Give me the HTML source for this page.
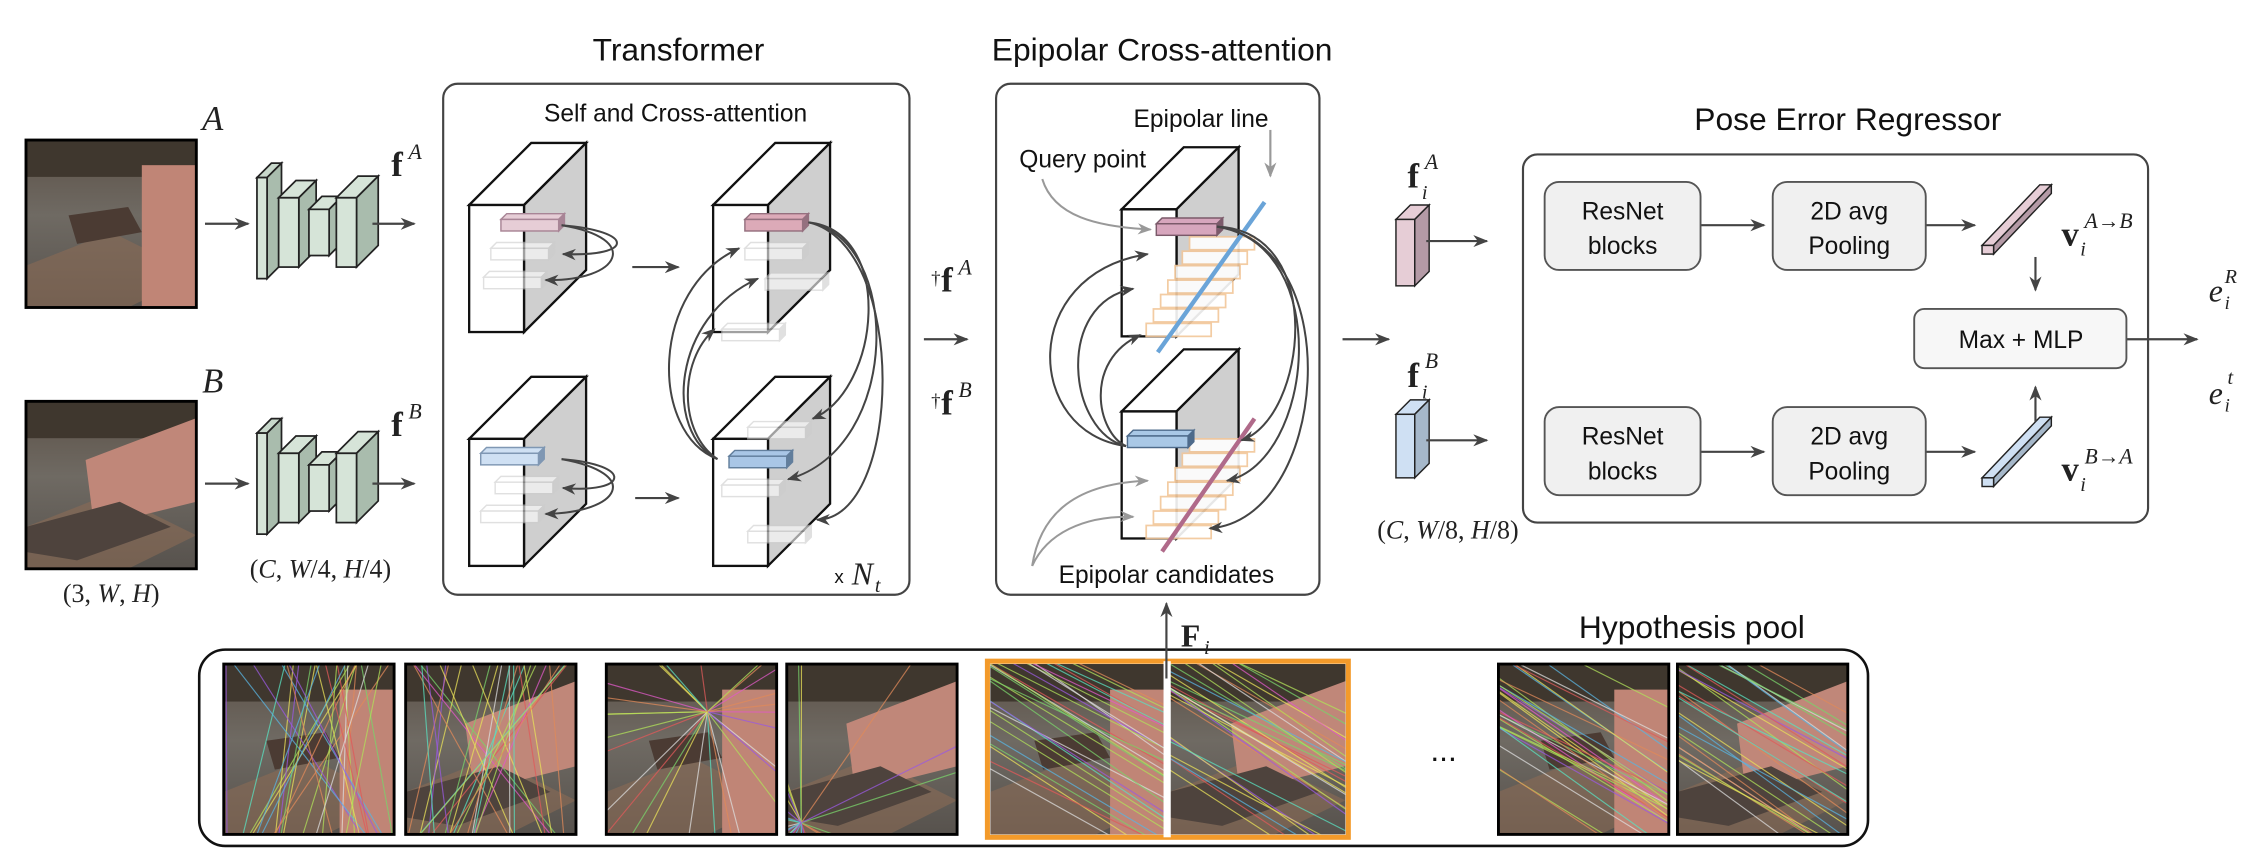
<!DOCTYPE html>
<html><head><meta charset="utf-8">
<style>
html,body{margin:0;padding:0;background:#fff;overflow:hidden;width:2252px;height:863px;}
svg{display:block;}
.s{font-family:"Liberation Sans",sans-serif;fill:#111;}
.m{font-family:"Liberation Serif",serif;fill:#222;}
</style></head>
<body>
<svg id="sv" width="2252" height="863" viewBox="0 0 1560 597.8" xmlns="http://www.w3.org/2000/svg">
<defs>
<marker id="ah" viewBox="0 0 10 10" refX="9" refY="5" markerWidth="7" markerHeight="7" orient="auto-start-reverse"><path d="M0,1 L10,5 L0,9 L3,5 z" fill="#444"/></marker>
<marker id="ahg" viewBox="0 0 10 10" refX="9" refY="5" markerWidth="7" markerHeight="7" orient="auto"><path d="M0,1 L10,5 L0,9 L3,5 z" fill="#999"/></marker>
<linearGradient id="floor" x1="0" y1="0" x2="0" y2="1"><stop offset="0" stop-color="#5c5147"/><stop offset=".45" stop-color="#6f6a63"/><stop offset="1" stop-color="#57524d"/></linearGradient>
</defs>

<text class="s" x="470" y="42" font-size="22" text-anchor="middle">Transformer</text>
<text class="s" x="805" y="42" font-size="22" text-anchor="middle">Epipolar Cross-attention</text>
<text class="s" x="1280" y="90" font-size="22" text-anchor="middle">Pose Error Regressor</text>
<text class="s" x="1172" y="442" font-size="22" text-anchor="middle">Hypothesis pool</text>

<rect x="307" y="58" width="323" height="354" rx="10" fill="none" stroke="#444" stroke-width="1.5"/>
<rect x="690" y="58" width="224" height="354" rx="10" fill="none" stroke="#444" stroke-width="1.5"/>
<rect x="1055" y="107" width="433" height="255" rx="10" fill="none" stroke="#444" stroke-width="1.5"/>
<rect x="138" y="450" width="1156" height="136" rx="18" fill="none" stroke="#111" stroke-width="1.8"/>

<text class="s" x="468" y="84" font-size="17" text-anchor="middle">Self and Cross-attention</text>
<text class="s" x="832" y="88" font-size="17" text-anchor="middle">Epipolar line</text>
<text class="s" x="750" y="116" font-size="17" text-anchor="middle">Query point</text>
<text class="s" x="808" y="404" font-size="17" text-anchor="middle">Epipolar candidates</text>

<g id="dyn"></g>

<text class="m" x="140" y="90" font-size="24" font-style="italic">A</text>
<text class="m" x="140" y="272" font-size="24" font-style="italic">B</text>
<text class="m" x="77" y="417" font-size="18" text-anchor="middle">(3, <tspan font-style="italic">W</tspan>, <tspan font-style="italic">H</tspan>)</text>
<text class="m" x="222" y="400" font-size="18" text-anchor="middle">(<tspan font-style="italic">C</tspan>, <tspan font-style="italic">W</tspan>/4, <tspan font-style="italic">H</tspan>/4)</text>
<text class="m" x="1003" y="373" font-size="18" text-anchor="middle">(<tspan font-style="italic">C</tspan>, <tspan font-style="italic">W</tspan>/8, <tspan font-style="italic">H</tspan>/8)</text>
<text class="m" x="271" y="122" font-size="24" font-weight="bold">f</text><text class="m" x="283" y="110" font-size="15" font-style="italic">A</text>
<text class="m" x="271" y="302" font-size="24" font-weight="bold">f</text><text class="m" x="283" y="290" font-size="15" font-style="italic">B</text>
<text class="m" x="645" y="197" font-size="13">†</text><text class="m" x="652" y="202" font-size="24" font-weight="bold">f</text><text class="m" x="664" y="190" font-size="15" font-style="italic">A</text>
<text class="m" x="645" y="282" font-size="13">†</text><text class="m" x="652" y="287" font-size="24" font-weight="bold">f</text><text class="m" x="664" y="275" font-size="15" font-style="italic">B</text>
<text class="s" x="578" y="404" font-size="13">x</text><text class="m" x="590" y="405" font-size="22" font-style="italic">N</text><text class="m" x="606" y="410" font-size="14" font-style="italic">t</text>
<text class="m" x="975" y="130" font-size="24" font-weight="bold">f</text><text class="m" x="987" y="117" font-size="15" font-style="italic">A</text><text class="m" x="985" y="138" font-size="14" font-style="italic">i</text>
<text class="m" x="975" y="268" font-size="24" font-weight="bold">f</text><text class="m" x="987" y="255" font-size="15" font-style="italic">B</text><text class="m" x="985" y="276" font-size="14" font-style="italic">i</text>
<text class="m" x="1428" y="170" font-size="24" font-weight="bold">v</text><text class="m" x="1444" y="158" font-size="15" font-style="italic">A→B</text><text class="m" x="1441" y="177" font-size="14" font-style="italic">i</text>
<text class="m" x="1428" y="333" font-size="24" font-weight="bold">v</text><text class="m" x="1444" y="321" font-size="15" font-style="italic">B→A</text><text class="m" x="1441" y="340" font-size="14" font-style="italic">i</text>
<text class="m" x="1530" y="209" font-size="22" font-style="italic">e</text><text class="m" x="1541" y="196" font-size="14" font-style="italic">R</text><text class="m" x="1541" y="214" font-size="13" font-style="italic">i</text>
<text class="m" x="1530" y="280" font-size="22" font-style="italic">e</text><text class="m" x="1543" y="266" font-size="14" font-style="italic">t</text><text class="m" x="1541" y="285" font-size="13" font-style="italic">i</text>
<text class="m" x="818" y="448" font-size="22" font-weight="bold">F</text><text class="m" x="834" y="453" font-size="14" font-style="italic">i</text>
<text class="s" x="1000" y="527" font-size="22" text-anchor="middle">...</text>

<g fill="#f0f0f0" stroke="#555" stroke-width="1.3">
<rect x="1070" y="126" width="108" height="61" rx="10"/>
<rect x="1228" y="126" width="106" height="61" rx="10"/>
<rect x="1070" y="282" width="108" height="61" rx="10"/>
<rect x="1228" y="282" width="106" height="61" rx="10"/>
<rect x="1326" y="214" width="147" height="41" rx="7" fill="#f7f7f7"/>
</g>
<g class="s" font-size="17" text-anchor="middle">
<text x="1124" y="152">ResNet</text><text x="1124" y="176">blocks</text>
<text x="1281" y="152">2D avg</text><text x="1281" y="176">Pooling</text>
<text x="1124" y="308">ResNet</text><text x="1124" y="332">blocks</text>
<text x="1281" y="308">2D avg</text><text x="1281" y="332">Pooling</text>
<text x="1400" y="241">Max + MLP</text>
</g>
</svg>
<script>
var g=document.getElementById('dyn');var h='';
function A(x1,y1,x2,y2,c){h+='<line x1="'+x1+'" y1="'+y1+'" x2="'+x2+'" y2="'+y2+'" stroke="'+(c||'#444')+'" stroke-width="1.5" marker-end="url(#'+(c?'ahg':'ah')+')"/>';}
function P(d,c,w){h+='<path d="'+d+'" fill="none" stroke="'+(c||'#444')+'" stroke-width="'+(w||1.4)+'" marker-end="url(#'+(c?'ahg':'ah')+')"/>';}
function cube(x,y){h+='<polygon points="'+x+','+y+' '+(x+43)+','+(y-43)+' '+(x+81)+','+(y-43)+' '+(x+38)+','+y+'" fill="#fff" stroke="#111" stroke-width="1.6"/>';
h+='<polygon points="'+(x+38)+','+y+' '+(x+81)+','+(y-43)+' '+(x+81)+','+(y+45)+' '+(x+38)+','+(y+88)+'" fill="#cfcfcf" stroke="#111" stroke-width="1.6"/>';
h+='<rect x="'+x+'" y="'+y+'" width="38" height="88" fill="#fff" stroke="#111" stroke-width="1.6"/>';}
function bar(x,y,w,f,s,op){h+='<g opacity="'+(op||1)+'"><polygon points="'+x+','+y+' '+(x+4)+','+(y-4)+' '+(x+w+4)+','+(y-4)+' '+(x+w)+','+y+'" fill="'+f+'" stroke="'+s+'"/><polygon points="'+(x+w)+','+y+' '+(x+w+4)+','+(y-4)+' '+(x+w+4)+','+(y+4)+' '+(x+w)+','+(y+8)+'" fill="'+s+'" stroke="'+s+'"/><rect x="'+x+'" y="'+y+'" width="'+w+'" height="8" fill="'+f+'" stroke="'+s+'"/></g>';}
function slab(x,y,w,hh,d,f){h+='<polygon points="'+x+','+y+' '+(x+d)+','+(y-d)+' '+(x+w+d)+','+(y-d)+' '+(x+w)+','+y+'" fill="'+f+'" stroke="#222" stroke-width="1.2"/><polygon points="'+(x+w)+','+y+' '+(x+w+d)+','+(y-d)+' '+(x+w+d)+','+(y+hh-d)+' '+(x+w)+','+(y+hh)+'" fill="#a9bcad" stroke="#222" stroke-width="1.2"/><rect x="'+x+'" y="'+y+'" width="'+w+'" height="'+hh+'" fill="#d6e4d8" stroke="#222" stroke-width="1.2"/>';}
function enc(y){slab(178,y+8,7,70,10,'#c8d8cb');slab(193,y+22,14,48,12,'#d6e4d8');slab(214,y+30,14,32,9,'#d6e4d8');slab(233,y+22,14,48,15,'#d6e4d8');}
var R=1;function rnd(){R=(R*9301+49297)%233280;return R/233280;}
function photo(x,y,w,hh,v,id){h+='<clipPath id="c'+id+'"><rect x="'+x+'" y="'+y+'" width="'+w+'" height="'+hh+'"/></clipPath><g clip-path="url(#c'+id+')">';
h+='<rect x="'+x+'" y="'+y+'" width="'+w+'" height="'+hh+'" fill="url(#floor)"/>';
h+='<rect x="'+x+'" y="'+y+'" width="'+w+'" height="'+hh*0.22+'" fill="#3f372e"/>';
h+='<polygon points="'+(x)+','+(y+hh*0.75)+' '+(x+w*0.5)+','+(y+hh*0.55)+' '+(x+w)+','+(y+hh*0.8)+' '+(x+w*0.6)+','+(y+hh)+' '+x+','+(y+hh)+'" fill="#8a6a55" opacity=".6"/>';
if(v==0){h+='<rect x="'+(x+w*0.68)+'" y="'+(y+hh*0.15)+'" width="'+w*0.35+'" height="'+hh*0.85+'" fill="#c08576"/><polygon points="'+(x+w*0.25)+','+(y+hh*0.45)+' '+(x+w*0.6)+','+(y+hh*0.4)+' '+(x+w*0.68)+','+(y+hh*0.55)+' '+(x+w*0.3)+','+(y+hh*0.62)+'" fill="#4b3b33"/>';}
else{h+='<polygon points="'+(x+w*0.35)+','+(y+hh*0.35)+' '+(x+w)+','+(y+hh*0.1)+' '+(x+w)+','+(y+hh*0.6)+' '+(x+w*0.4)+','+(y+hh*0.75)+'" fill="#c08779"/><polygon points="'+x+','+(y+hh*0.75)+' '+(x+w*0.55)+','+(y+hh*0.6)+' '+(x+w*0.85)+','+(y+hh*0.75)+' '+(x+w*0.3)+','+(y+hh*0.95)+' '+x+','+(y+hh*0.9)+'" fill="#4e433d"/>';}
}
function lines(x,y,w,hh,n,mode,cx,cy){var cols=['#e05ac8','#7ad36b','#e8e05a','#5ab4e0','#9a5ae0','#e08a5a','#5ae0c0','#e05a5a','#dddddd','#b0e05a'];
for(var i=0;i<n;i++){var c=cols[Math.floor(rnd()*cols.length)];var x1,y1,x2,y2;
if(mode==0){x1=x+rnd()*w;y1=y-5;x2=x+rnd()*w;y2=y+hh+5;}
else if(mode==1){x1=cx;y1=cy;var a=rnd()*6.28;x2=cx+Math.cos(a)*300;y2=cy+Math.sin(a)*300;}
else{x1=x-5;y1=y+rnd()*hh*0.9-hh*0.3;x2=x+w+5;y2=y1+hh*0.5+rnd()*hh*0.3;}
h+='<line x1="'+x1+'" y1="'+y1+'" x2="'+x2+'" y2="'+y2+'" stroke="'+c+'" stroke-width="0.8" opacity=".75"/>';}
h+='</g>';}
photo(18,97,118,116,0,'a');h+='</g>';h+='<rect x="18" y="97" width="118" height="116" fill="none" stroke="#000" stroke-width="2"/>';
photo(18,278,118,116,1,'b');h+='</g>';h+='<rect x="18" y="278" width="118" height="116" fill="none" stroke="#000" stroke-width="2"/>';
A(142,155,172,155);A(142,335,172,335);enc(115);enc(292);A(258,155,287,155);A(258,335,287,335);
cube(325,142);cube(494,142);cube(325,304);cube(494,304);
bar(347,152,40,'#e6cdd6','#a88596');bar(340,172,40,'#fff','#ccc',.6);bar(335,192,40,'#fff','#ccc',.6);
bar(516,152,40,'#dcaab8','#95707f');bar(516,172,40,'#fff','#ccc',.6);bar(530,193,40,'#fff','#ccc',.6);bar(500,228,40,'#fff','#ccc',.6);
bar(333,314,40,'#cfe0f3','#7f97b3');bar(343,334,40,'#fff','#ccc',.6);bar(333,354,40,'#fff','#ccc',.6);
bar(505,316,40,'#a9c6e6','#627e9c');bar(518,296,40,'#fff','#ccc',.6);bar(500,336,40,'#fff','#ccc',.6);bar(518,368,40,'#fff','#ccc',.6);
P('M389,156 C440,160 440,178 390,176');P('M389,156 C445,165 430,195 378,194');
P('M389,318 C440,322 435,342 390,338');P('M389,318 C445,328 430,355 378,356');
A(438,185,470,185);A(440,345,470,345);
P('M497,318 C450,300 450,200 512,172');P('M497,318 C460,300 465,220 525,193');P('M497,318 C470,300 470,250 495,228');
P('M560,154 C620,160 610,270 563,290');P('M560,154 C625,165 625,310 546,332');P('M560,154 C630,170 625,360 566,360');
A(640,235,670,235);
cube(777,145);cube(777,285);
var st='';for(var i=0;i<7;i++){st+='<rect x="'+(786+(6-i)*5+8)+'" y="'+(164+i*10)+'" width="45" height="9" fill="#fff" stroke="#f2c79a" stroke-width="1.2" opacity=".9"/>';}
var st2='';for(var i=0;i<7;i++){st2+='<rect x="'+(786+(6-i)*5+8)+'" y="'+(304+i*10)+'" width="45" height="9" fill="#fff" stroke="#f2c79a" stroke-width="1.2" opacity=".9"/>';}
h+=st+st2;
h+='<line x1="876" y1="140" x2="802" y2="244" stroke="#6aa4d8" stroke-width="3"/>';
h+='<line x1="869" y1="290" x2="805" y2="382" stroke="#b06a8a" stroke-width="3"/>';
bar(801,155,42,'#d7a6bd','#7b5a6a');bar(781,302,42,'#a9c8e6','#4e6b8b');
P('M722,124 C730,150 760,157 797,159','#999');A(880,90,880,122,'#999');
P('M843,157 C920,160 905,290 860,305');P('M843,157 C925,170 910,320 850,333');P('M843,157 C935,170 920,360 838,366');
P('M780,309 C710,300 705,190 795,176');P('M780,309 C740,300 730,210 785,200');P('M780,309 C760,300 750,250 790,232');
P('M715,392 C720,360 740,335 795,333','#999');P('M715,392 C725,370 750,357 785,358','#999');
A(930,235,962,235);
h+='<polygon points="967,152 977,142 990,142 980,152" fill="#e6cdd6" stroke="#222"/><polygon points="980,152 990,142 990,188 980,198" fill="#b49aa6" stroke="#222"/><rect x="967" y="152" width="13" height="46" fill="#e6cdd6" stroke="#222"/>';
h+='<polygon points="967,287 977,277 990,277 980,287" fill="#cfe0f3" stroke="#222"/><polygon points="980,287 990,277 990,321 980,331" fill="#a6b8ca" stroke="#222"/><rect x="967" y="287" width="13" height="44" fill="#cfe0f3" stroke="#222"/>';
A(988,167,1030,167);A(988,305,1030,305);
A(1178,156,1222,156);A(1334,156,1368,156);A(1178,313,1222,313);A(1334,313,1368,313);
h+='<polygon points="1373,170 1413,128 1421,128 1381,170" fill="#e6cdd6" stroke="#222"/><polygon points="1381,170 1421,128 1421,134 1381,176" fill="#b49aa6" stroke="#222"/><rect x="1373" y="170" width="8" height="6" fill="#e6cdd6" stroke="#222"/>';
h+='<polygon points="1373,331 1413,289 1421,289 1381,331" fill="#cfe0f3" stroke="#222"/><polygon points="1381,331 1421,289 1421,295 1381,337" fill="#a6b8ca" stroke="#222"/><rect x="1373" y="331" width="8" height="6" fill="#cfe0f3" stroke="#222"/>';
A(1410,178,1410,201);A(1410,292,1410,268);A(1473,235,1522,235);
var im=[[155,0,0],[281,1,0],[420,0,1],[545,1,1],[686,0,2],[810,1,2],[1038,0,2],[1162,1,2]];
for(var k=0;k<im.length;k++){var q=im[k];var w=(k==4||k==5)?122:118;photo(q[0],460,w,118,q[1],'h'+k);lines(q[0],460,w,118,28,q[2],k==2?q[0]+70:q[0]+10,k==2?493:570);
if(!(k==4||k==5))h+='<rect x="'+q[0]+'" y="460" width="118" height="118" fill="none" stroke="#000" stroke-width="2"/>';}
h+='<rect x="684" y="458" width="250" height="122" fill="none" stroke="#f39a2a" stroke-width="3.5"/>';
h+='<rect x="806" y="458" width="5" height="122" fill="#fff"/>';
A(808,470,808,418);
g.innerHTML=h;
</script>
</body></html>
